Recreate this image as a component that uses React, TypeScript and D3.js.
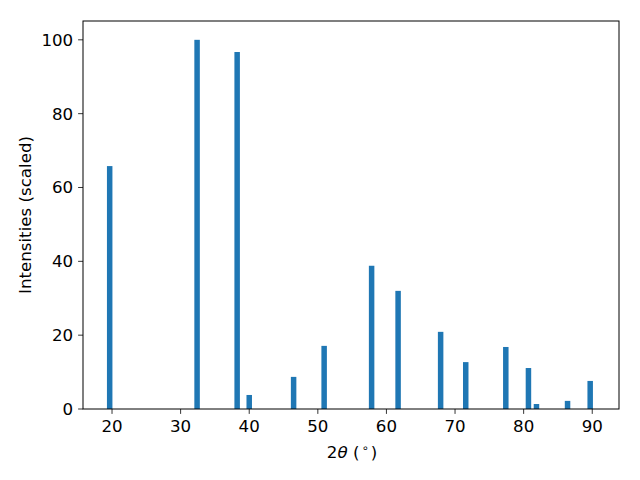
import React from "react";
import * as d3 from "d3";

const positions = [19.66, 32.4, 38.24, 40.0, 46.47, 50.92, 57.84, 61.7, 67.9, 71.56, 77.4, 80.7, 81.87, 86.4, 89.7];
const intensities = [65.8, 100, 96.7, 3.8, 8.7, 17.1, 38.8, 32.0, 20.9, 12.7, 16.8, 11.1, 1.35, 2.2, 7.6];
const xTicks = [20, 30, 40, 50, 60, 70, 80, 90];
const yTicks = [0, 20, 40, 60, 80, 100];
const barWidth = 0.8;

const W = 640, H = 480;
const L = 83, R = 619, T = 21, B = 409;

export default function App() {
  const x = d3.scaleLinear().domain([15.77, 93.9]).range([L, R]);
  const y = d3.scaleLinear().domain([0, 105.1]).range([B, T]);
  const font = "DejaVu Sans, sans-serif";
  const fs = 16.67;
  return (
    <svg width={W} height={H} style={{ position: "absolute", left: 0, top: 0 }} fontFamily={font}>
      <rect x={0} y={0} width={W} height={H} fill="white" />
      {positions.map((p, i) => (
        <rect key={i} x={x(p - barWidth / 2)} y={y(intensities[i])} width={x(p + barWidth / 2) - x(p - barWidth / 2)} height={y(0) - y(intensities[i])} fill="#1f77b4" />
      ))}
      <rect x={L} y={T} width={R - L} height={B - T} fill="none" stroke="black" strokeWidth={1} />
      {xTicks.map((t) => (
        <g key={t}>
          <line x1={x(t)} x2={x(t)} y1={B} y2={B + 4.9} stroke="black" strokeWidth={0.8} />
          <text x={x(t)} y={B + 22.5} textAnchor="middle" fontSize={fs}>{t}</text>
        </g>
      ))}
      {yTicks.map((t) => (
        <g key={t}>
          <line x1={L - 4.9} x2={L} y1={y(t)} y2={y(t)} stroke="black" strokeWidth={0.8} />
          <text x={L - 9.8} y={y(t)} dy="0.36em" textAnchor="end" fontSize={fs}>{t}</text>
        </g>
      ))}
      <text x={352} y={457.5} textAnchor="middle" fontSize={fs}>
        <tspan>2</tspan>
        <tspan fontStyle="italic">θ</tspan>
        <tspan> (</tspan>
        <tspan fontSize={11.5} dy={-6} dx={2}>∘</tspan>
        <tspan dy={6} dx={2}>)</tspan>
      </text>
      <text transform={`translate(30.5, ${(T + B) / 2}) rotate(-90)`} textAnchor="middle" fontSize={fs}>Intensities (scaled)</text>
    </svg>
  );
}
